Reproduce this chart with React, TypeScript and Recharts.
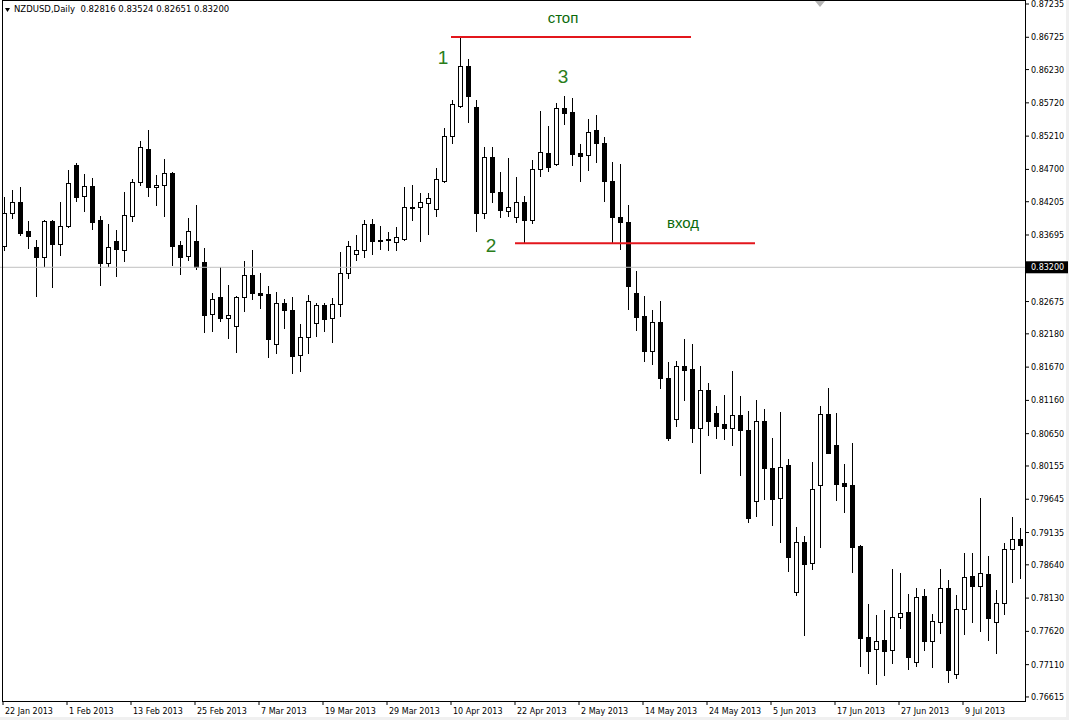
import { ComposedChart, Bar, XAxis, YAxis, ReferenceLine, ReferenceDot } from "recharts";

// NZDUSD, дневки 22 Jan – 18 Jul 2013
const symbol = "NZDUSD,Daily";
const lastQuote = ["0.82816", "0.83524", "0.82651", "0.83200"];
const bid = 0.832;

const opens = [
  0.8353, 0.8403, 0.8420, 0.8376, 0.8351, 0.8335, 0.8391, 0.8355, 0.8383, 0.8477, 0.8429, 0.8445, 0.8392, 0.8326, 0.8360, 0.8347,
  0.8399, 0.8450, 0.8502, 0.8443, 0.8446, 0.8465, 0.8354, 0.8337, 0.8360, 0.8328, 0.8248, 0.8274, 0.8243, 0.8230, 0.8274, 0.8308,
  0.8281, 0.8279, 0.8202, 0.8265, 0.8254, 0.8185, 0.8213, 0.8234, 0.8262, 0.8242, 0.8263, 0.8311, 0.8340, 0.8347, 0.8386, 0.8362,
  0.8364, 0.8358, 0.8364, 0.8411, 0.8413, 0.8419, 0.8410, 0.8453, 0.8521, 0.8567, 0.8628, 0.8565, 0.8403, 0.8489, 0.8436, 0.8407,
  0.8397, 0.8420, 0.8392, 0.8470, 0.8495, 0.8478, 0.8564, 0.8558, 0.8495, 0.8492, 0.8530, 0.8510, 0.8453, 0.8397, 0.8389, 0.8280,
  0.8245, 0.8192, 0.8236, 0.8151, 0.8087, 0.8169, 0.8164, 0.8073, 0.8132, 0.8097, 0.8080, 0.8073, 0.8094, 0.8071, 0.7962, 0.8084,
  0.8013, 0.7966, 0.8017, 0.7822, 0.7899, 0.7867, 0.7987, 0.8095, 0.8048, 0.7989, 0.7986, 0.7893, 0.7753, 0.7735, 0.7749, 0.7733,
  0.7784, 0.7791, 0.7715, 0.7816, 0.7748, 0.7776, 0.7828, 0.7696, 0.7796, 0.7847, 0.7832, 0.7850, 0.7776, 0.7805, 0.7889, 0.7903,
];
const highs = [
  0.8428, 0.8438, 0.8443, 0.8391, 0.8362, 0.8393, 0.8392, 0.8420, 0.8469, 0.8480, 0.8463, 0.8457, 0.8399, 0.8386, 0.8377, 0.8435,
  0.8455, 0.8514, 0.8530, 0.8461, 0.8486, 0.8466, 0.8360, 0.8395, 0.8415, 0.8349, 0.8281, 0.8320, 0.8293, 0.8276, 0.8330, 0.8346,
  0.8311, 0.8291, 0.8282, 0.8271, 0.8274, 0.8233, 0.8277, 0.8265, 0.8266, 0.8273, 0.8343, 0.8360, 0.8370, 0.8392, 0.8394, 0.8383,
  0.8374, 0.8382, 0.8443, 0.8446, 0.8434, 0.8434, 0.8472, 0.8533, 0.8576, 0.8673, 0.8639, 0.8577, 0.8504, 0.8505, 0.8466, 0.8488,
  0.8458, 0.8429, 0.8484, 0.8559, 0.8537, 0.8572, 0.8583, 0.8579, 0.8509, 0.8547, 0.8554, 0.8520, 0.8482, 0.8478, 0.8415, 0.8315,
  0.8276, 0.8254, 0.8268, 0.8175, 0.8176, 0.8210, 0.8202, 0.8169, 0.8143, 0.8107, 0.8124, 0.8161, 0.8123, 0.8100, 0.8117, 0.8103,
  0.8058, 0.8098, 0.8026, 0.7922, 0.7908, 0.8022, 0.8107, 0.8135, 0.8097, 0.8019, 0.8051, 0.7894, 0.7804, 0.7787, 0.7794, 0.7858,
  0.7852, 0.7819, 0.7828, 0.7827, 0.7789, 0.7858, 0.7840, 0.7818, 0.7882, 0.7882, 0.7966, 0.7878, 0.7826, 0.7898, 0.7937, 0.7920,
];
const lows = [
  0.8346, 0.8396, 0.8369, 0.8350, 0.8276, 0.8322, 0.8290, 0.8339, 0.8381, 0.8422, 0.8407, 0.8379, 0.8293, 0.8322, 0.8306, 0.8330,
  0.8391, 0.8446, 0.8430, 0.8416, 0.8399, 0.8324, 0.8310, 0.8331, 0.8318, 0.8221, 0.8223, 0.8237, 0.8212, 0.8190, 0.8253, 0.8272,
  0.8257, 0.8183, 0.8188, 0.8227, 0.8158, 0.8161, 0.8189, 0.8214, 0.8223, 0.8206, 0.8246, 0.8304, 0.8331, 0.8335, 0.8341, 0.8348,
  0.8347, 0.8347, 0.8362, 0.8392, 0.8361, 0.8371, 0.8399, 0.8451, 0.8511, 0.8566, 0.8543, 0.8375, 0.8395, 0.8420, 0.8397, 0.8399,
  0.8390, 0.8357, 0.8388, 0.8460, 0.8468, 0.8477, 0.8539, 0.8477, 0.8453, 0.8469, 0.8482, 0.8421, 0.8357, 0.8348, 0.8256, 0.8224,
  0.8177, 0.8172, 0.8135, 0.8055, 0.8076, 0.8116, 0.8052, 0.8004, 0.8063, 0.8059, 0.8057, 0.8047, 0.8001, 0.7930, 0.7939, 0.7965,
  0.7925, 0.7899, 0.7855, 0.7818, 0.7756, 0.7858, 0.7892, 0.8035, 0.7964, 0.7945, 0.7853, 0.7709, 0.7698, 0.7681, 0.7695, 0.7714,
  0.7767, 0.7705, 0.7709, 0.7734, 0.7708, 0.7760, 0.7685, 0.7690, 0.7758, 0.7777, 0.7762, 0.7749, 0.7729, 0.7789, 0.7838, 0.7844,
];
const closes = [
  0.8403, 0.8420, 0.8373, 0.8368, 0.8335, 0.8391, 0.8355, 0.8384, 0.8449, 0.8428, 0.8444, 0.8390, 0.8326, 0.8351, 0.8348, 0.8400,
  0.8451, 0.8504, 0.8443, 0.8446, 0.8465, 0.8353, 0.8335, 0.8375, 0.8321, 0.8247, 0.8272, 0.8243, 0.8247, 0.8274, 0.8308, 0.8280,
  0.8278, 0.8210, 0.8265, 0.8254, 0.8184, 0.8213, 0.8269, 0.8262, 0.8241, 0.8263, 0.8311, 0.8352, 0.8347, 0.8386, 0.8361, 0.8361,
  0.8362, 0.8366, 0.8412, 0.8412, 0.8420, 0.8426, 0.8455, 0.8521, 0.8571, 0.8628, 0.8583, 0.8403, 0.8489, 0.8436, 0.8408, 0.8412,
  0.8420, 0.8392, 0.8470, 0.8497, 0.8473, 0.8564, 0.8557, 0.8494, 0.8491, 0.8528, 0.8510, 0.8453, 0.8397, 0.8389, 0.8292, 0.8244,
  0.8192, 0.8236, 0.8151, 0.8059, 0.8168, 0.8163, 0.8073, 0.8132, 0.8085, 0.8077, 0.8073, 0.8094, 0.8070, 0.7935, 0.8084, 0.8013,
  0.7965, 0.8014, 0.7876, 0.7899, 0.7866, 0.7980, 0.8095, 0.8036, 0.7988, 0.7985, 0.7892, 0.7752, 0.7732, 0.7748, 0.7732, 0.7784,
  0.7790, 0.7722, 0.7814, 0.7748, 0.7778, 0.7828, 0.7703, 0.7796, 0.7846, 0.7832, 0.7851, 0.7783, 0.7805, 0.7889, 0.7903, 0.7895,
];

// подписи дат: индекс бара -> текст
const dateTicks = [0, 8, 16, 24, 32, 40, 48, 56, 64, 72, 80, 88, 96, 104, 112, 120];
const dateLabels = [
  "22 Jan 2013", "1 Feb 2013", "13 Feb 2013", "25 Feb 2013", "7 Mar 2013", "19 Mar 2013", "29 Mar 2013", "10 Apr 2013",
  "22 Apr 2013", "2 May 2013", "14 May 2013", "24 May 2013", "5 Jun 2013", "17 Jun 2013", "27 Jun 2013", "9 Jul 2013",
];
const priceTicks = [
  0.87235, 0.86725, 0.8623, 0.8572, 0.8521, 0.847, 0.84205, 0.83695, 0.82675, 0.8218, 0.8167,
  0.8116, 0.8065, 0.80155, 0.79645, 0.79135, 0.7864, 0.7813, 0.7762, 0.7711, 0.76615,
];

// разметка: уровни стопа и входа
const stopLevel = 0.8673;
const stopBars = [56, 86];
const entryLevel = 0.8357;
const entryBars = [64, 94];
const words = [
  { bar: 70, price: 0.8702, text: "стоп" },
  { bar: 85, price: 0.8388, text: "вход" },
];
const points = [
  { bar: 55, price: 0.8642, text: "1" },
  { bar: 61, price: 0.8353, text: "2" },
  { bar: 70, price: 0.8613, text: "3" },
];

const data = opens.map((open, i) => ({ i, open, high: highs[i], low: lows[i], close: closes[i] }));

const FONT = '"DejaVu Sans", sans-serif';

function Candle(props: any) {
  const { x, y, width, height, payload } = props;
  const { open, close, high, low } = payload;
  const top = Math.min(y, y + height);
  const h = Math.abs(height);
  const span = high - low;
  const toY = (v: number) => (span > 0 ? top + ((high - v) / span) * h : top);
  const cx = Math.round(x + width / 2);
  const bTop = Math.round(toY(Math.max(open, close)));
  const bBot = Math.round(toY(Math.min(open, close)));
  const bull = close >= open;
  return (
    <g>
      <line x1={cx + 0.5} x2={cx + 0.5} y1={Math.round(top)} y2={Math.round(top + h) + 1} stroke="#000" strokeWidth={1} />
      <rect x={cx - 1.5} y={bTop + 0.5} width={4} height={Math.max(bBot - bTop, 0)} fill={bull ? "#fff" : "#000"} stroke="#000" strokeWidth={1} />
    </g>
  );
}

function DateTick(props: any) {
  const { x, y, payload } = props;
  const idx = dateTicks.indexOf(payload.value);
  return (
    <text x={x + 2} y={y + 9} fontSize={8} fontFamily={FONT} fill="#000" textAnchor="start">
      {dateLabels[idx]}
    </text>
  );
}

function PriceTick(props: any) {
  const { x, y, payload } = props;
  return (
    <text x={x} y={y + 3} fontSize={8} fontFamily={FONT} fill="#000" textAnchor="start">
      {Number(payload.value).toFixed(5)}
    </text>
  );
}

function BidLabel(props: any) {
  const vb = props.viewBox || {};
  const right = vb.x + vb.width;
  return (
    <g>
      <rect x={right + 1} y={vb.y - 6} width={42} height={12} fill="#000" />
      <text x={right + 6} y={vb.y + 3} fontSize={8} fontFamily={FONT} fill="#fff">
        {bid.toFixed(5)}
      </text>
    </g>
  );
}

export default function App() {
  return (
    <div style={{ position: "absolute", left: 0, top: 0, width: 1069, height: 720, background: "#f0f0f0", overflow: "hidden" }}>
      <div style={{ position: "absolute", left: 0, top: 0, width: 1066, height: 717, background: "#fff" }} />
      <div style={{ position: "absolute", left: 0, top: 0 }}>
        <ComposedChart width={1069} height={720} data={data} margin={{ top: 1, right: 0, bottom: 1, left: -1 }}>
          <XAxis
            dataKey="i"
            type="category"
            ticks={dateTicks}
            interval={0}
            padding={{ left: 0, right: 2 }}
            axisLine={false}
            tickLine={{ stroke: "#000" }}
            tickSize={4}
            tickMargin={0}
            height={18}
            tick={<DateTick />}
          />
          <YAxis
            orientation="right"
            type="number"
            domain={[0.76553, 0.87281]}
            ticks={priceTicks}
            interval={0}
            allowDataOverflow
            width={44}
            axisLine={false}
            tickLine={{ stroke: "#000" }}
            tickSize={4}
            tickMargin={2}
            tick={<PriceTick />}
          />
          <ReferenceLine y={bid} stroke="#c0c0c0" strokeWidth={1} label={BidLabel} />
          <Bar dataKey={(d: any) => [d.low, d.high]} shape={<Candle />} barSize={5} isAnimationActive={false} />
          <ReferenceLine
            segment={[{ x: stopBars[0], y: stopLevel }, { x: stopBars[1], y: stopLevel }]}
            stroke="#e3161c"
            strokeWidth={2}
          />
          <ReferenceLine
            segment={[{ x: entryBars[0], y: entryLevel }, { x: entryBars[1], y: entryLevel }]}
            stroke="#e3161c"
            strokeWidth={2}
          />
          {words.map((w) => (
            <ReferenceDot
              key={w.text}
              x={w.bar}
              y={w.price}
              r={0}
              fill="none"
              stroke="none"
              label={{ value: w.text, position: "center", fill: "#0b6a0b", fontSize: 15, fontFamily: "Liberation Sans, Arial" }}
            />
          ))}
          {points.map((p) => (
            <ReferenceDot
              key={p.text}
              x={p.bar}
              y={p.price}
              r={0}
              fill="none"
              stroke="none"
              label={{ value: p.text, position: "center", fill: "#2a7d1a", fontSize: 19, fontFamily: "Liberation Sans, Arial" }}
            />
          ))}
        </ComposedChart>
      </div>
      <div
        style={{
          position: "absolute",
          left: 2,
          top: 0,
          width: 1024,
          height: 702,
          border: "1px solid #000",
          boxSizing: "border-box",
          pointerEvents: "none",
        }}
      />
      <svg style={{ position: "absolute", left: 0, top: 0 }} width={1069} height={20}>
        <polygon points="815,1 825,1 820,7" fill="#b4b4b4" />
        <polygon points="5,8 10,8 7.5,12" fill="#000" />
      </svg>
      <div style={{ position: "absolute", left: 14, top: 4, font: `8.5px ${FONT}`, lineHeight: "11px", color: "#000", whiteSpace: "pre" }}>
        {symbol + "  " + lastQuote.join(" ")}
      </div>
    </div>
  );
}
